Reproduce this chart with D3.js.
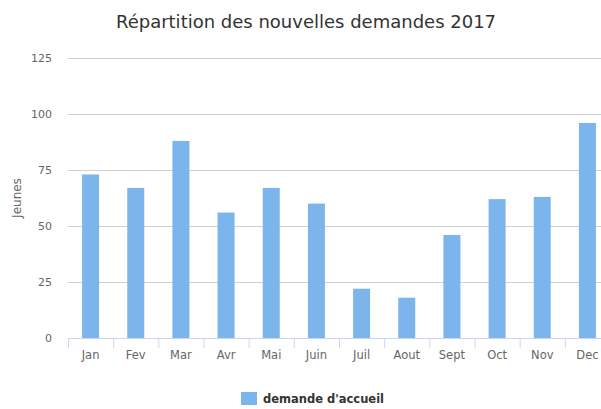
<!DOCTYPE html>
<html><head><meta charset="utf-8">
<script src="https://cdn.jsdelivr.net/npm/d3@7"></script>
<style>body{margin:0;background:#fff;overflow:hidden}svg{display:block}text{font-family:"DejaVu Sans",sans-serif}</style>
</head><body>
<script>
const categories = ["Jan","Fev","Mar","Avr","Mai","Juin","Juil","Aout","Sept","Oct","Nov","Dec"];
const values = [73,67,88,56,67,60,22,18,46,62,63,96];
const yTicks = [0,25,50,75,100,125];
const seriesName = "demande d'accueil";
const titleText = "Répartition des nouvelles demandes 2017";
const yTitle = "Jeunes";

(function(){
const W = 601, H = 409;
const svg = d3.select("body").append("svg").attr("width", W).attr("height", H);
const pL = 68, pR = 610, pT = 58, pB = 338;
const x = d3.scaleBand().domain(categories).range([pL, pR]).paddingInner(0).paddingOuter(0);
const y = d3.scaleLinear().domain([0,125]).range([pB, pT]);

svg.append("text").attr("x", 306).attr("y", 28).attr("text-anchor","middle")
  .attr("font-size", 18).attr("fill","#333").text(titleText);

// grid
const gy = svg.append("g").attr("transform", `translate(${pL},0)`)
  .call(d3.axisLeft(y).tickValues(yTicks).tickSize(-(pR-pL)).tickPadding(16));
gy.select(".domain").remove();
gy.selectAll(".tick line").attr("stroke", (d)=> d===0 ? "none" : "#d0d0d0");
gy.selectAll(".tick text").attr("font-size", 11).attr("fill","#666").attr("font-family","DejaVu Sans");

svg.append("text").attr("transform", `translate(21,${(pT+pB)/2}) rotate(-90)`)
  .attr("text-anchor","middle").attr("font-size", 12).attr("fill","#666").text(yTitle);

// bars
const bw = 17;
svg.append("g").selectAll("rect").data(values).join("rect")
  .attr("x", (d,i)=> x(categories[i]) + x.bandwidth()/2 - bw/2)
  .attr("y", d=> y(d)).attr("width", bw).attr("height", d=> pB - y(d))
  .attr("fill","#7cb5ec");

// x axis
const gx = svg.append("g").attr("transform", `translate(0,${pB})`)
  .call(d3.axisBottom(x).tickSize(0).tickPadding(13));
gx.select(".domain").attr("stroke","#ccd6eb");
gx.selectAll(".tick text").attr("font-size", 11.5).attr("fill","#666").attr("font-family","DejaVu Sans");
const edges = categories.map(c => x(c)).concat([pR]);
svg.append("g").selectAll("line").data(edges).join("line")
  .attr("x1", d=>d+0.5).attr("x2", d=>d+0.5).attr("y1", pB).attr("y2", pB+10)
  .attr("stroke","#ccd6eb");

// legend
const lg = svg.append("g");
lg.append("rect").attr("x", 241).attr("y", 392).attr("width", 16).attr("height", 13).attr("fill","#7cb5ec");
lg.append("text").attr("x", 263).attr("y", 403).attr("font-size", 11.5).attr("font-weight","bold")
  .attr("fill","#333").text(seriesName);
})();
</script>
</body></html>
